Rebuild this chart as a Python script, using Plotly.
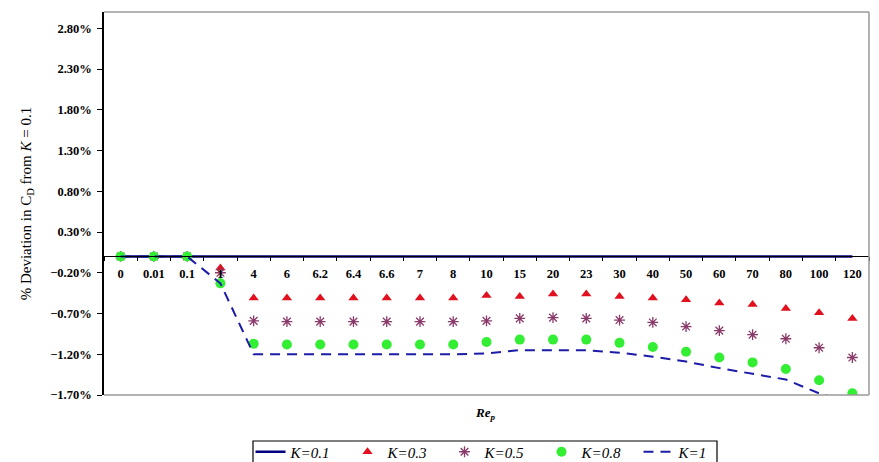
import plotly.graph_objects as go

# Particle Reynolds number categories (x axis)
re_p = ["0", "0.01", "0.1", "1", "4", "6", "6.2", "6.4", "6.6", "7", "8", "10",
        "15", "20", "23", "30", "40", "50", "60", "70", "80", "100", "120"]

# % deviation in drag coefficient relative to K = 0.1
k01 = [0.0] * 23
k03 = [0.0, 0.0, 0.0, -0.14, -0.51, -0.51, -0.51, -0.51, -0.51, -0.51, -0.51, -0.48,
       -0.49, -0.46, -0.46, -0.49, -0.51, -0.53, -0.57, -0.59, -0.64, -0.69, -0.76]
k05 = [0.0, 0.0, 0.0, -0.20, -0.79, -0.80, -0.80, -0.80, -0.80, -0.80, -0.80, -0.79,
       -0.76, -0.75, -0.76, -0.78, -0.81, -0.86, -0.91, -0.96, -1.01, -1.12, -1.24]
k08 = [0.0, 0.0, 0.0, -0.33, -1.07, -1.08, -1.08, -1.08, -1.08, -1.08, -1.08, -1.05,
       -1.02, -1.02, -1.02, -1.06, -1.11, -1.17, -1.24, -1.30, -1.38, -1.52, -1.68]
k10 = [0.0, 0.0, 0.0, -0.33, -1.20, -1.20, -1.20, -1.20, -1.20, -1.20, -1.20, -1.19,
       -1.15, -1.15, -1.15, -1.18, -1.23, -1.29, -1.37, -1.44, -1.51, -1.68, -1.80]

Y_MIN, Y_MAX = -1.7, 3.0
SERIF = "Liberation Serif"
NAVY = "#000080"
PURPLE = "#8a3a6a"
W, H = 879, 462
ML, MR, MT, MB = 104, 10, 12, 67
PW, PH = W - ML - MR, H - MT - MB

fig = go.Figure()
fig.add_trace(go.Scatter(x=re_p, y=k01, mode="lines", name="<i>K=0.1</i>",
                         line=dict(color=NAVY, width=2.5)))
fig.add_trace(go.Scatter(x=re_p, y=k03, mode="markers", name="<i>K=0.3</i>",
                         marker=dict(symbol="triangle-up", size=9, color="#e0101e")))
fig.add_trace(go.Scatter(x=re_p, y=k05, mode="markers", name="<i>K=0.5</i>",
                         marker=dict(symbol="asterisk-open", size=9, color=PURPLE,
                                     line=dict(color=PURPLE, width=1.3))))
fig.add_trace(go.Scatter(x=re_p, y=k08, mode="markers", name="<i>K=0.8</i>",
                         marker=dict(symbol="circle", size=10, color="#33ee33")))
fig.add_trace(go.Scatter(x=re_p, y=k10, mode="lines", name="<i>K=1</i>",
                         line=dict(color="#1c1ca8", width=2, dash="10px,7px")))

# frame around the plotting area (top, right, bottom)
for x0, y0, x1, y1 in [(0, 1, 1, 1), (1, 0, 1, 1), (0, 0, 1, 0)]:
    fig.add_shape(type="line", xref="paper", yref="paper", x0=x0, y0=y0, x1=x1, y1=y1,
                  line=dict(color="#9a9a9a", width=1.5))


def px_to_paper_x(px):
    return (px - ML) / PW


def px_to_paper_y(py):
    return (H - MB - py) / PH


# box around the legend, running off the bottom edge
fig.add_shape(type="rect", xref="paper", yref="paper",
              x0=px_to_paper_x(253), x1=px_to_paper_x(717),
              y0=px_to_paper_y(470), y1=px_to_paper_y(441),
              line=dict(color="black", width=1.2), fillcolor="rgba(0,0,0,0)")

fig.update_layout(
    width=W, height=H,
    margin=dict(l=ML, r=MR, t=MT, b=MB, autoexpand=False),
    paper_bgcolor="white", plot_bgcolor="white",
    font=dict(family=SERIF, color="black"),
    showlegend=True,
    legend=dict(orientation="h", xref="container", yref="container",
                x=493 / W, xanchor="center", y=(H - 452) / H, yanchor="middle",
                borderwidth=0, bgcolor="rgba(0,0,0,0)",
                font=dict(family=SERIF, size=15), entrywidth=52,
                tracegroupgap=0),
    xaxis=dict(type="category", anchor="free",
               position=(0 - Y_MIN) / (Y_MAX - Y_MIN),
               showline=True, linecolor="black", linewidth=1,
               ticks="outside", ticklen=4, tickcolor="black", tickson="boundaries",
               ticklabelstandoff=6, automargin=False,
               tickfont=dict(family=SERIF, size=12.5, weight="bold"),
               showgrid=False, zeroline=False, range=[-0.5, 22.5]),
    yaxis=dict(range=[Y_MIN, Y_MAX], tick0=Y_MIN, dtick=0.5,
               tickformat=".2f", ticksuffix="%", automargin=False,
               showline=True, linecolor="black", linewidth=1.5,
               ticks="outside", ticklen=5, tickcolor="black", ticklabelstandoff=3,
               tickfont=dict(family=SERIF, size=12.5, weight="bold"),
               showgrid=False, zeroline=False,
               title=dict(text="% Deviation in C<sub>D</sub> from <i>K</i> = 0.1",
                          font=dict(family=SERIF, size=15), standoff=15)),
)

# x-axis title below the frame
fig.add_annotation(xref="paper", yref="paper", x=px_to_paper_x(485), y=px_to_paper_y(403),
                   yanchor="top", showarrow=False,
                   text="<b><i>Re</i></b><sub><b><i>p</i></b></sub>",
                   font=dict(family=SERIF, size=13))

fig.write_html("out.html")
